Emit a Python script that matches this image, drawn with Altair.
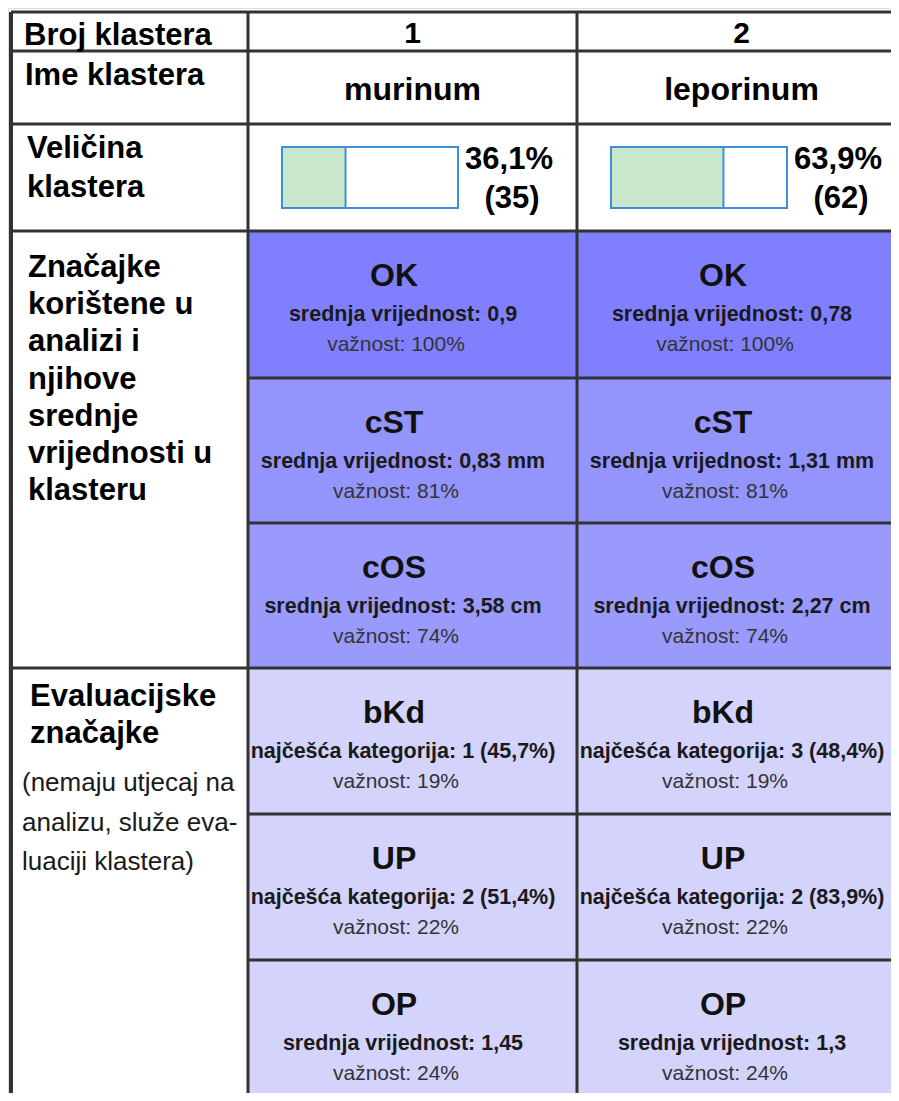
import altair as alt
import pandas as pd

# ---------------- data ----------------
cluster_ids = ["1", "2"]
cluster_names = ["murinum", "leporinum"]
size_pct = [36.1, 63.9]
size_n = [35, 62]
features = ["OK", "cST", "cOS", "bKd", "UP", "OP"]
stat_kind = ["srednja vrijednost", "srednja vrijednost", "srednja vrijednost",
             "najčešća kategorija", "najčešća kategorija", "srednja vrijednost"]
stat_c1 = ["0,9", "0,83 mm", "3,58 cm", "1 (45,7%)", "2 (51,4%)", "1,45"]
stat_c2 = ["0,78", "1,31 mm", "2,27 cm", "3 (48,4%)", "2 (83,9%)", "1,3"]
importance = [100, 81, 74, 19, 22, 24]

head_broj = "Broj klastera"
head_ime = "Ime klastera"
head_vel = ["Veličina", "klastera"]
head_zn = ["Značajke", "korištene u", "analizi i", "njihove", "srednje",
           "vrijednosti u", "klasteru"]
head_ev = ["Evaluacijske", "značajke"]
head_ev_note = ["(nemaju utjecaj na", "analizu, služe eva-", "luaciji klastera)"]

# ---------------- layout / style ----------------
X0, X1 = 8, 891
Y0, Y1 = 8, 1093
W, H = X1 - X0, Y1 - Y0
row_edges = [12, 51, 124, 231, 378, 523, 668, 814, 960, 1105]
# rows whose separator spans the label column too (merged label cells otherwise)
full_width_edge = [True, True, True, True, False, False, True, False, False, True]
col_edges = [11, 248, 577, 906]
row_fills = ["#8080ff", "#9494fd", "#9a9afd", "#d3d3fc", "#d3d3fc", "#d3d3fc"]
FONT = "Liberation Sans"
LINE = "#333333"
BAR_BLUE = "#3f8fd8"
BAR_GREEN = "#c9e7cb"
BAR_W = 176

xs = alt.Scale(domain=[X0, X1], nice=False, zero=False)
ys = alt.Scale(domain=[Y0, Y1], reverse=True, nice=False, zero=False)


def X(f="x"):
    return alt.X(f"{f}:Q", scale=xs, axis=None)


def Y(f="y"):
    return alt.Y(f"{f}:Q", scale=ys, axis=None)


def text_layer(rows, size, weight="normal", align="left", color="#000000"):
    df = pd.DataFrame(rows, columns=["t", "x", "y"])
    return alt.Chart(df).mark_text(
        align=align, baseline="alphabetic", fontSize=size, fontWeight=weight,
        font=FONT, color=color
    ).encode(x=X(), y=Y(), text="t:N")


layers = []

# feature cell backgrounds
cells = []
for i, f in enumerate(features):
    for j in range(2):
        cells.append({"x": col_edges[j + 1], "x2": col_edges[j + 2],
                      "y": row_edges[3 + i], "y2": row_edges[4 + i],
                      "fill": row_fills[i]})
layers.append(alt.Chart(pd.DataFrame(cells)).mark_rect().encode(
    x=X(), x2="x2:Q", y=Y(), y2="y2:Q",
    color=alt.Color("fill:N", scale=None)))

# size bars
bar_rows = []
for j in range(2):
    left = col_edges[j + 1] + 34
    bar_rows.append({"x": left, "x2": left + BAR_W, "y": 147, "y2": 208,
                     "pct": size_pct[j], "xg2": left + size_pct[j] / 100 * BAR_W})
bars = pd.DataFrame(bar_rows)
layers.append(alt.Chart(bars).mark_rect(fill="white", stroke=BAR_BLUE, strokeWidth=2).encode(
    x=X(), x2="x2:Q", y=Y(), y2="y2:Q"))
layers.append(alt.Chart(bars).mark_rect(fill=BAR_GREEN, stroke=BAR_BLUE, strokeWidth=2).encode(
    x=X(), x2="xg2:Q", y=Y(), y2="y2:Q"))

# grid lines
hl = pd.DataFrame({"x": [col_edges[0] if fw else col_edges[1] for fw in full_width_edge],
                   "x2": [col_edges[-1]] * len(row_edges),
                   "y": row_edges})
layers.append(alt.Chart(hl).mark_rule(color=LINE, strokeWidth=3).encode(
    x=X(), x2="x2:Q", y=Y()))
vl = pd.DataFrame({"x": col_edges, "y": [row_edges[0]] * len(col_edges),
                   "y2": [row_edges[-1]] * len(col_edges),
                   "w": [4, 3, 3, 3]})
layers.append(alt.Chart(vl).mark_rule(color=LINE).encode(
    x=X(), y=Y(), y2="y2:Q", strokeWidth=alt.StrokeWidth("w:Q", scale=None)))

# left header labels
layers.append(text_layer([(head_broj, 24, 45), (head_ime, 25, 85)]
                         + [(t, 27, 158 + 39 * k) for k, t in enumerate(head_vel)]
                         + [(t, 28, 277 + 37.2 * k) for k, t in enumerate(head_zn)]
                         + [(t, 30, 706 + 37 * k) for k, t in enumerate(head_ev)],
                         31, "bold"))
layers.append(text_layer([(t, 22, 791 + 39.5 * k) for k, t in enumerate(head_ev_note)],
                         26, "normal", color="#1a1a1a"))

# column headers
centers = [(col_edges[j + 1] + col_edges[j + 2]) / 2 for j in range(2)]
layers.append(text_layer([(cluster_ids[j], centers[j], 43) for j in range(2)], 30, "bold", "center"))
layers.append(text_layer([(cluster_names[j], centers[j], 100) for j in range(2)], 32, "bold", "center"))

# size labels
layers.append(text_layer(
    [(f"{str(size_pct[j]).replace('.', ',')}%", col_edges[j + 1] + 34 + BAR_W + 51, 169) for j in range(2)],
    31, "bold", "center"))
layers.append(text_layer(
    [(f"({size_n[j]})", col_edges[j + 1] + 34 + BAR_W + 54, 208) for j in range(2)],
    31, "bold", "center"))

# feature cell texts
titles, stats, imps = [], [], []
for i, f in enumerate(features):
    top = row_edges[3 + i]
    for j, vals in enumerate([stat_c1, stat_c2]):
        left = col_edges[j + 1]
        titles.append((f, left + 146, top + 55))
        stats.append((f"{stat_kind[i]}: {vals[i]}", left + 155, top + 90))
        imps.append((f"važnost: {importance[i]}%", left + 148, top + 120))
layers.append(text_layer(titles, 32, "bold", "center", "#111111"))
layers.append(text_layer(stats, 21.5, "bold", "center", "#1a1a1a"))
layers.append(text_layer(imps, 21, "normal", "center", "#333333"))

chart = alt.layer(*layers).properties(
    width=W, height=H, padding=0, autosize=alt.AutoSizeParams(type="none")
).configure_view(stroke=None).configure(background="white")

chart.save("out.html", embed_options={"renderer": "svg", "actions": False})
